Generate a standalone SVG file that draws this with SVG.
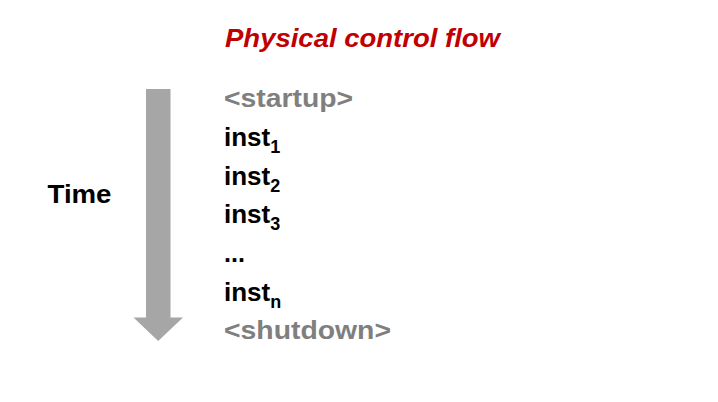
<svg xmlns="http://www.w3.org/2000/svg" width="718" height="402" viewBox="0 0 718 402">
  <style>
    .title { font-family: "Liberation Sans", Arial, sans-serif; font-weight: bold; font-style: italic; font-size: 26px; fill: #c00000; }
    .line { font-family: "Liberation Sans", Arial, sans-serif; font-weight: bold; font-size: 26px; fill: #000000; }
    .gray { fill: #7f7f7f; }
    .sub { font-size: 18px; }
    .label { font-family: "Liberation Sans", Arial, sans-serif; font-weight: bold; font-size: 25px; fill: #000000; }
  </style>
  <rect width="718" height="402" fill="#ffffff"/>

  <text id="title" class="title" x="225" y="46.5" textLength="275" lengthAdjust="spacingAndGlyphs">Physical control flow</text>

  <!-- time axis arrow -->
  <g id="time-arrow">
    <polygon points="146,89 170.5,89 170.5,317.5 183,317.5 158.2,341 133.5,317.5 146,317.5" fill="#a6a6a6"/>
  </g>
  <g id="time-label">
    <text class="label" x="47.5" y="203.3" textLength="64" lengthAdjust="spacingAndGlyphs">Time</text>
  </g>

  <!-- instruction sequence -->
  <g id="sequence">
    <text class="line gray" x="224" y="107" textLength="129" lengthAdjust="spacingAndGlyphs">&lt;startup&gt;</text>
    <text class="line" x="224" y="146">inst<tspan class="sub" dy="7">1</tspan></text>
    <text class="line" x="224" y="184.5">inst<tspan class="sub" dy="7">2</tspan></text>
    <text class="line" x="224" y="223">inst<tspan class="sub" dy="7">3</tspan></text>
    <text class="line" x="224" y="261.5" textLength="21" lengthAdjust="spacingAndGlyphs">...</text>
    <text class="line" x="224" y="300.5">inst<tspan class="sub" dy="7">n</tspan></text>
    <text class="line gray" x="224" y="338.5" textLength="167" lengthAdjust="spacingAndGlyphs">&lt;shutdown&gt;</text>
  </g>
</svg>
